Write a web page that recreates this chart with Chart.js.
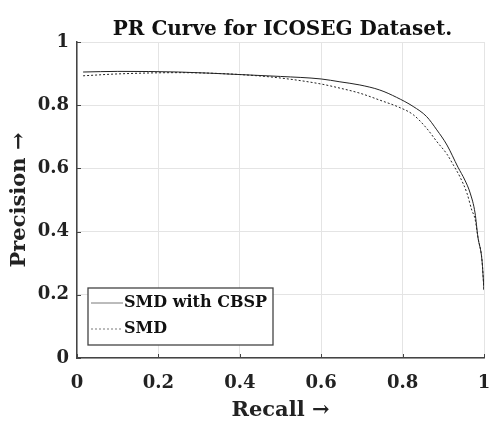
<!DOCTYPE html>
<html>
<head>
<meta charset="utf-8">
<script src="https://cdn.jsdelivr.net/npm/chart.js@4/dist/chart.umd.min.js"></script>
<style>
  html, body { margin: 0; padding: 0; background: #fff; }
  #wrap { width: 491px; height: 421px; }
</style>
</head>
<body>
<div id="wrap"><canvas id="prChart"></canvas></div>
<script>
// PR curve values
var cbspRecall = [0.015, 0.1, 0.25, 0.4, 0.5, 0.6, 0.646, 0.695, 0.744, 0.785, 0.826, 0.859, 0.884, 0.909, 0.936, 0.953, 0.966, 0.978, 0.985, 0.995, 1.0];
var cbspPrecision = [0.905, 0.907, 0.905, 0.897, 0.891, 0.883, 0.874, 0.864, 0.848, 0.825, 0.796, 0.764, 0.722, 0.674, 0.604, 0.563, 0.522, 0.459, 0.383, 0.31, 0.215];

var smdRecall = [0.015, 0.1, 0.25, 0.4, 0.5, 0.6, 0.646, 0.695, 0.744, 0.794, 0.826, 0.859, 0.884, 0.909, 0.925, 0.941, 0.958, 0.97, 0.978, 0.985, 0.995, 1.0];
var smdPrecision = [0.893, 0.899, 0.903, 0.897, 0.886, 0.867, 0.854, 0.838, 0.816, 0.792, 0.77, 0.727, 0.685, 0.645, 0.61, 0.573, 0.522, 0.468, 0.44, 0.383, 0.31, 0.215];

var seriesNames = ["SMD with CBSP", "SMD"];
var chartTitle = "PR Curve for ICOSEG Dataset.";
var xTitle = "Recall \u2192";
var yTitle = "Precision \u2192";

var serif = "'DejaVu Serif', serif";

function toPoints(xs, ys) {
    return xs.map(function (x, i) {
        return {x: x, y: ys[i]};
    });
}

function tickText(v) {
    return String(Number(v.toFixed(1)));
}

// title centred over the plot, legend box inside the plot, inward ticks
var extras = {
    id: 'extras',
    afterDraw: function (chart) {
        var ctx = chart.ctx;
        var area = chart.chartArea;
        ctx.save();

        ctx.fillStyle = '#111';
        ctx.font = 'bold 20px ' + serif;
        ctx.textAlign = 'center';
        ctx.textBaseline = 'alphabetic';
        ctx.fillText(chartTitle, (area.left + area.right) / 2 + 2, 35);

        // inward tick marks
        ctx.strokeStyle = '#444';
        ctx.lineWidth = 1;
        var xs = chart.scales.x, ys = chart.scales.y;
        xs.ticks.forEach(function (t) {
            var px = Math.round(xs.getPixelForValue(t.value)) + 0.5;
            ctx.beginPath();
            ctx.moveTo(px, area.bottom);
            ctx.lineTo(px, area.bottom - 4);
            ctx.stroke();
        });
        ys.ticks.forEach(function (t) {
            var py = Math.round(ys.getPixelForValue(t.value)) + 0.5;
            ctx.beginPath();
            ctx.moveTo(area.left, py);
            ctx.lineTo(area.left + 4, py);
            ctx.stroke();
        });

        // legend
        var bx = area.left + 11, by = 288, bw = 185, bh = 57;
        ctx.fillStyle = '#fff';
        ctx.fillRect(bx, by, bw, bh);
        ctx.strokeStyle = '#444';
        ctx.lineWidth = 1.3;
        ctx.strokeRect(bx, by, bw, bh);

        ctx.font = 'bold 16px ' + serif;
        ctx.textAlign = 'left';
        ctx.textBaseline = 'middle';
        chart.data.datasets.forEach(function (ds, i) {
            var ly = by + 15 + i * 26;
            ctx.strokeStyle = '#555';
            ctx.lineWidth = 0.8;
            ctx.setLineDash(ds.borderDash || []);
            ctx.beginPath();
            ctx.moveTo(bx + 3, ly);
            ctx.lineTo(bx + 35, ly);
            ctx.stroke();
            ctx.setLineDash([]);
            ctx.fillStyle = '#111';
            ctx.fillText(ds.label, bx + 36, ly);
        });
        ctx.restore();
    }
};

var ctx = document.getElementById('prChart');
new Chart(ctx, {
    type: 'scatter',
    data: {
        datasets: [
            {
                label: seriesNames[0],
                data: toPoints(cbspRecall, cbspPrecision),
                showLine: true,
                borderColor: '#222',
                borderWidth: 1,
                pointRadius: 0,
                cubicInterpolationMode: 'monotone'
            },
            {
                label: seriesNames[1],
                data: toPoints(smdRecall, smdPrecision),
                showLine: true,
                borderColor: '#222',
                borderWidth: 1,
                borderDash: [2, 2],
                pointRadius: 0,
                cubicInterpolationMode: 'monotone'
            }
        ]
    },
    options: {
        responsive: true,
        maintainAspectRatio: false,
        animation: false,
        layout: {padding: {top: 42, right: 7, left: 0, bottom: 0}},
        plugins: {
            legend: {display: false},
            title: {display: false},
            tooltip: {enabled: false}
        },
        scales: {
            x: {
                type: 'linear',
                min: 0,
                max: 1,
                ticks: {
                    stepSize: 0.2,
                    color: '#222',
                    padding: 15,
                    maxRotation: 0,
                    callback: tickText,
                    font: {family: serif, size: 18, weight: 'bold'}
                },
                grid: {color: '#e4e4e4', drawTicks: false},
                border: {color: '#444', width: 1.5},
                title: {
                    display: true,
                    text: xTitle,
                    color: '#222',
                    padding: {top: 0, bottom: -2},
                    font: {family: serif, size: 21, weight: 'bold'}
                },
                afterFit: function (scale) {
                    scale.height = 63;
                    scale.paddingLeft = 0;
                    scale.paddingRight = 0;
                }
            },
            y: {
                min: 0,
                max: 1,
                ticks: {
                    stepSize: 0.2,
                    color: '#222',
                    padding: 8,
                    callback: tickText,
                    font: {family: serif, size: 18, weight: 'bold'}
                },
                grid: {color: '#e4e4e4', drawTicks: false},
                border: {color: '#444', width: 1.5},
                title: {
                    display: true,
                    text: yTitle,
                    color: '#222',
                    padding: {top: 7, bottom: 0},
                    font: {family: serif, size: 21, weight: 'bold'}
                },
                afterFit: function (scale) {
                    scale.width = 77;
                    scale.paddingTop = 0;
                    scale.paddingBottom = 0;
                }
            }
        }
    },
    plugins: [extras]
});
</script>
</body>
</html>
